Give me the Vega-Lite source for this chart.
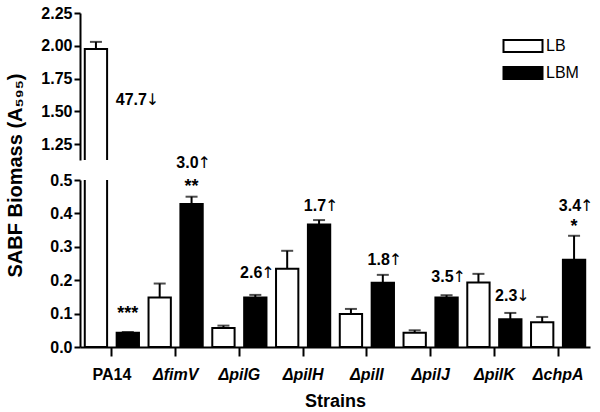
{
  "$schema": "https://vega.github.io/schema/vega-lite/v6.json",
  "background": "white",
  "padding": {"left": 5, "top": 5, "right": 5, "bottom": 5},
  "spacing": 20,
  "bounds": "flush",
  "config": {
    "view": {"stroke": null},
    "font": "Liberation Sans",
    "axis": {"domainColor": "black", "domainWidth": 2, "tickColor": "black", "tickWidth": 2, "labelColor": "black", "titleColor": "black", "labelFont": "Liberation Sans", "titleFont": "Liberation Sans", "grid": false, "labelOverlap": false}
  },
  "datasets": {
    "bars": [
      {"strain": "PA14", "medium": "LB", "value": 1.975, "upper": 2.03},
      {"strain": "PA14", "medium": "LBM", "value": 0.043, "upper": 0.045},
      {"strain": "fimV", "medium": "LB", "value": 0.148, "upper": 0.19},
      {"strain": "fimV", "medium": "LBM", "value": 0.428, "upper": 0.45},
      {"strain": "pilG", "medium": "LB", "value": 0.057, "upper": 0.064},
      {"strain": "pilG", "medium": "LBM", "value": 0.148, "upper": 0.156},
      {"strain": "pilH", "medium": "LB", "value": 0.234, "upper": 0.288},
      {"strain": "pilH", "medium": "LBM", "value": 0.367, "upper": 0.38},
      {"strain": "pilI", "medium": "LB", "value": 0.099, "upper": 0.114},
      {"strain": "pilI", "medium": "LBM", "value": 0.192, "upper": 0.216},
      {"strain": "pilJ", "medium": "LB", "value": 0.043, "upper": 0.05},
      {"strain": "pilJ", "medium": "LBM", "value": 0.148, "upper": 0.155},
      {"strain": "pilK", "medium": "LB", "value": 0.193, "upper": 0.219},
      {"strain": "pilK", "medium": "LBM", "value": 0.083, "upper": 0.102},
      {"strain": "chpA", "medium": "LB", "value": 0.074, "upper": 0.09},
      {"strain": "chpA", "medium": "LBM", "value": 0.261, "upper": 0.333}
    ],
    "notes": [
      {"strain": "fimV", "medium": "LBM", "y": 0.55, "num": "3.0", "arrow": "↑"},
      {"strain": "pilG", "medium": "LBM", "y": 0.222, "num": "2.6", "arrow": "↑"},
      {"strain": "pilH", "medium": "LBM", "y": 0.422, "num": "1.7", "arrow": "↑"},
      {"strain": "pilI", "medium": "LBM", "y": 0.261, "num": "1.8", "arrow": "↑"},
      {"strain": "pilJ", "medium": "LBM", "y": 0.21, "num": "3.5", "arrow": "↑"},
      {"strain": "pilK", "medium": "LBM", "y": 0.154, "num": "2.3", "arrow": "↓"},
      {"strain": "chpA", "medium": "LBM", "y": 0.422, "num": "3.4", "arrow": "↑"}
    ],
    "stars": [
      {"strain": "PA14", "medium": "LBM", "y": 0.1, "label": "***"},
      {"strain": "fimV", "medium": "LBM", "y": 0.48, "label": "**"},
      {"strain": "chpA", "medium": "LBM", "y": 0.36, "label": "*"}
    ],
    "topnotes": [
      {"strain": "PA14", "medium": "LBM", "y": 1.59, "num": "47.7", "arrow": "↓"}
    ]
  },
  "vconcat": [
    {
      "width": 510,
      "height": 147,
      "resolve": {"legend": {"fill": "independent"}},
      "layer": [
        {
          "data": {"name": "bars"},
          "mark": {"type": "bar", "stroke": "black", "strokeWidth": 2, "clip": true},
          "encoding": {
            "x": {"field": "strain", "type": "nominal", "sort": ["PA14", "fimV", "pilG", "pilH", "pilI", "pilJ", "pilK", "chpA"], "scale": {"paddingInner": 0.15, "paddingOuter": 0.075}, "axis": null},
            "xOffset": {"field": "medium", "type": "nominal", "scale": {"paddingInner": 0.3, "paddingOuter": 0}},
            "y": {"field": "value", "type": "quantitative", "scale": {"domain": [1.13, 2.25], "nice": false, "zero": false}, "axis": {"values": [1.25, 1.5, 1.75, 2.0, 2.25], "tickCount": 20, "format": ".2f", "title": null, "labelOverlap": false, "labelFontSize": 16, "labelFontWeight": "bold", "tickSize": 6, "labelPadding": 2}},
            "fill": {"field": "medium", "type": "nominal", "scale": {"domain": ["LB", "LBM"], "range": ["white", "black"]}, "legend": {"title": null, "orient": "none", "legendX": 430, "legendY": 20, "symbolType": "M-1.625,-0.5L1.625,-0.5L1.625,0.5L-1.625,0.5Z", "symbolSize": 576, "symbolStrokeColor": "black", "symbolStrokeWidth": 2, "labelFontSize": 16, "labelColor": "black", "labelFont": "Liberation Sans", "rowPadding": 4, "labelOffset": 10}}
          }
        },
        {
          "data": {"name": "bars"},
          "mark": {"type": "rule", "color": "black", "strokeWidth": 2, "clip": true},
          "encoding": {
            "x": {"field": "strain", "type": "nominal", "sort": ["PA14", "fimV", "pilG", "pilH", "pilI", "pilJ", "pilK", "chpA"]},
            "xOffset": {"field": "medium", "type": "nominal"},
            "y": {"field": "value", "type": "quantitative"},
            "y2": {"field": "upper"}
          }
        },
        {
          "data": {"name": "bars"},
          "mark": {"type": "tick", "color": "black", "thickness": 2, "size": 12, "orient": "horizontal", "clip": true},
          "encoding": {
            "x": {"field": "strain", "type": "nominal", "sort": ["PA14", "fimV", "pilG", "pilH", "pilI", "pilJ", "pilK", "chpA"]},
            "xOffset": {"field": "medium", "type": "nominal"},
            "y": {"field": "upper", "type": "quantitative"}
          }
        },
        {
          "data": {"name": "topnotes"},
          "mark": {"type": "text", "align": "left", "baseline": "middle", "dx": -12, "fontSize": 16, "fontWeight": "bold", "color": "black"},
          "encoding": {
            "x": {"field": "strain", "type": "nominal", "sort": ["PA14", "fimV", "pilG", "pilH", "pilI", "pilJ", "pilK", "chpA"]},
            "xOffset": {"field": "medium", "type": "nominal"},
            "y": {"field": "y", "type": "quantitative"},
            "text": {"field": "num"}
          }
        },
        {
          "data": {"name": "topnotes"},
          "mark": {"type": "text", "align": "left", "baseline": "middle", "dx": 18, "fontSize": 16, "font": "DejaVu Sans", "color": "black"},
          "encoding": {
            "x": {"field": "strain", "type": "nominal", "sort": ["PA14", "fimV", "pilG", "pilH", "pilI", "pilJ", "pilK", "chpA"]},
            "xOffset": {"field": "medium", "type": "nominal"},
            "y": {"field": "y", "type": "quantitative"},
            "text": {"field": "arrow"}
          }
        }
      ]
    },
    {
      "width": 510,
      "height": 167,
      "layer": [
        {
          "data": {"name": "bars"},
          "mark": {"type": "bar", "stroke": "black", "strokeWidth": 2, "clip": true},
          "encoding": {
            "x": {"field": "strain", "type": "nominal", "sort": ["PA14", "fimV", "pilG", "pilH", "pilI", "pilJ", "pilK", "chpA"], "scale": {"paddingInner": 0.15, "paddingOuter": 0.075},
              "axis": {"title": "Strains", "titleFontSize": 18, "titleFontWeight": "bold", "titlePadding": 10, "labelAngle": 0, "labelFontSize": 16, "labelFontWeight": "bold", "labelFontStyle": {"condition": {"test": "datum.value == 'PA14'", "value": "normal"}, "value": "italic"}, "labelExpr": "datum.value == 'PA14' ? 'PA14' : 'Δ' + datum.value", "tickSize": 9, "labelPadding": 10}},
            "xOffset": {"field": "medium", "type": "nominal", "scale": {"paddingInner": 0.3, "paddingOuter": 0}},
            "y": {"field": "value", "type": "quantitative", "scale": {"domain": [0, 0.5], "nice": false}, "axis": {"values": [0, 0.1, 0.2, 0.3, 0.4, 0.5], "tickCount": 20, "format": ".1f", "labelOverlap": false, "title": "SABF Biomass (A₅₉₅)", "titleFontSize": 20, "titleFontWeight": "bold", "titleX": -59, "titleY": -5, "titleAlign": "center", "titleBaseline": "alphabetic", "titleAngle": -90, "labelFontSize": 16, "labelFontWeight": "bold", "tickSize": 6, "labelPadding": 2}},
            "fill": {"field": "medium", "type": "nominal", "scale": {"domain": ["LB", "LBM"], "range": ["white", "black"]}, "legend": null}
          }
        },
        {
          "data": {"name": "bars"},
          "mark": {"type": "rule", "color": "black", "strokeWidth": 2, "clip": true},
          "encoding": {
            "x": {"field": "strain", "type": "nominal", "sort": ["PA14", "fimV", "pilG", "pilH", "pilI", "pilJ", "pilK", "chpA"]},
            "xOffset": {"field": "medium", "type": "nominal"},
            "y": {"field": "value", "type": "quantitative"},
            "y2": {"field": "upper"}
          }
        },
        {
          "data": {"name": "bars"},
          "mark": {"type": "tick", "color": "black", "thickness": 2, "size": 12, "orient": "horizontal", "clip": true},
          "encoding": {
            "x": {"field": "strain", "type": "nominal", "sort": ["PA14", "fimV", "pilG", "pilH", "pilI", "pilJ", "pilK", "chpA"]},
            "xOffset": {"field": "medium", "type": "nominal"},
            "y": {"field": "upper", "type": "quantitative"}
          }
        },
        {
          "data": {"name": "notes"},
          "mark": {"type": "text", "align": "right", "baseline": "middle", "dx": 7, "fontSize": 16, "fontWeight": "bold", "color": "black"},
          "encoding": {
            "x": {"field": "strain", "type": "nominal", "sort": ["PA14", "fimV", "pilG", "pilH", "pilI", "pilJ", "pilK", "chpA"]},
            "xOffset": {"field": "medium", "type": "nominal"},
            "y": {"field": "y", "type": "quantitative"},
            "text": {"field": "num"}
          }
        },
        {
          "data": {"name": "notes"},
          "mark": {"type": "text", "align": "left", "baseline": "middle", "dx": 6, "fontSize": 16, "font": "DejaVu Sans", "color": "black"},
          "encoding": {
            "x": {"field": "strain", "type": "nominal", "sort": ["PA14", "fimV", "pilG", "pilH", "pilI", "pilJ", "pilK", "chpA"]},
            "xOffset": {"field": "medium", "type": "nominal"},
            "y": {"field": "y", "type": "quantitative"},
            "text": {"field": "arrow"}
          }
        },
        {
          "data": {"name": "stars"},
          "mark": {"type": "text", "align": "center", "baseline": "middle", "fontSize": 18, "fontWeight": "bold", "color": "black"},
          "encoding": {
            "x": {"field": "strain", "type": "nominal", "sort": ["PA14", "fimV", "pilG", "pilH", "pilI", "pilJ", "pilK", "chpA"]},
            "xOffset": {"field": "medium", "type": "nominal"},
            "y": {"field": "y", "type": "quantitative"},
            "text": {"field": "label"}
          }
        }
      ]
    }
  ]
}
